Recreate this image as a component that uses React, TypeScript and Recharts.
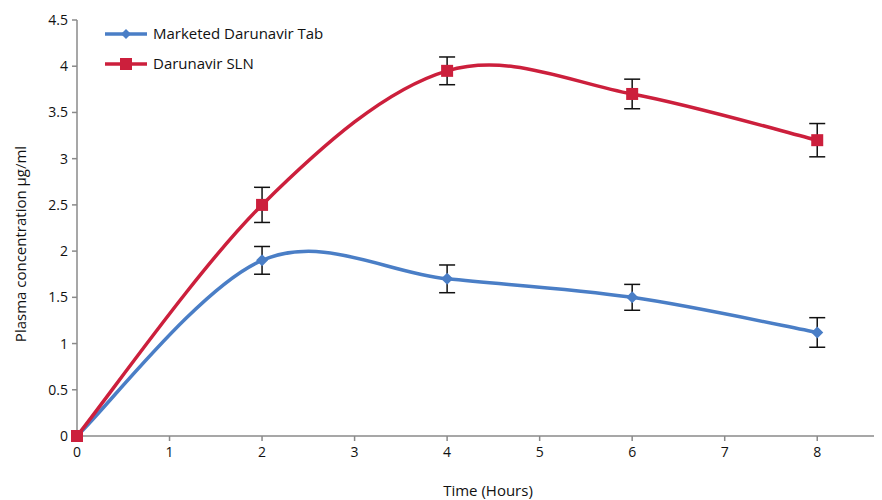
import React from "react";
import { LineChart, Line, XAxis, YAxis, ErrorBar } from "recharts";

const hours = [0, 2, 4, 6, 8];
const tabValues = [0, 1.9, 1.7, 1.5, 1.12];
const tabErrors = [0, 0.15, 0.15, 0.14, 0.16];
const slnValues = [0, 2.5, 3.95, 3.7, 3.2];
const slnErrors = [0, 0.19, 0.15, 0.16, 0.18];
const xTicks = [0, 1, 2, 3, 4, 5, 6, 7, 8];
const yTicks = [0, 0.5, 1, 1.5, 2, 2.5, 3, 3.5, 4, 4.5];

const BLUE = "#4a7ec6";
const RED = "#cc1f3c";
const AXIS = "#8a8a8a";
const FONT = "'Open Sans', sans-serif";

const data = hours.map((h, i) => ({
  time: h,
  tab: tabValues[i],
  tabErr: tabErrors[i],
  sln: slnValues[i],
  slnErr: slnErrors[i],
}));

// Excel-like smoothed line (Catmull-Rom as cubic bezier)
const K = 1 / 6;
function excelCurve(context: any) {
  let pts: number[][] = [];
  return {
    areaStart() {},
    areaEnd() {},
    lineStart() {
      pts = [];
    },
    lineEnd() {
      if (!pts.length) return;
      context.moveTo(pts[0][0], pts[0][1]);
      for (let i = 0; i < pts.length - 1; i++) {
        const p0 = pts[i - 1] || pts[i];
        const p1 = pts[i];
        const p2 = pts[i + 1];
        const p3 = pts[i + 2] || p2;
        context.bezierCurveTo(
          p1[0] + (p2[0] - p0[0]) * K,
          p1[1] + (p2[1] - p0[1]) * K,
          p2[0] - (p3[0] - p1[0]) * K,
          p2[1] - (p3[1] - p1[1]) * K,
          p2[0],
          p2[1]
        );
      }
    },
    point(x: number, y: number) {
      pts.push([+x, +y]);
    },
  };
}

const Diamond = (props: any) => {
  const { cx, cy } = props;
  if (cx == null || cy == null) return null;
  const r = 6;
  return <path d={`M${cx},${cy - r}L${cx + r},${cy}L${cx},${cy + r}L${cx - r},${cy}Z`} fill={BLUE} />;
};

const Square = (props: any) => {
  const { cx, cy } = props;
  if (cx == null || cy == null) return null;
  return <rect x={cx - 6} y={cy - 6} width={12} height={12} fill={RED} />;
};

const legendItems = [
  { label: "Marketed Darunavir Tab", color: BLUE, shape: "diamond" },
  { label: "Darunavir SLN", color: RED, shape: "square" },
];

const ChartLegend = () => (
  <svg width={260} height={60} style={{ position: "absolute", left: 97, top: 14 }}>
    {legendItems.map((it, i) => {
      const y = 12 + i * 30;
      return (
        <g key={it.label}>
          <line x1={0} x2={42} y1={y} y2={y} stroke={it.color} strokeWidth={3.5} />
          {it.shape === "diamond" ? (
            <path d={`M21,${y - 5}L26,${y}L21,${y + 5}L16,${y}Z`} fill={it.color} />
          ) : (
            <rect x={15} y={y - 6} width={12} height={12} fill={it.color} />
          )}
          <text x={48} y={y + 5} fontSize={15} fontFamily={FONT} fill="#111">
            {it.label}
          </text>
        </g>
      );
    })}
  </svg>
);

const YLabel = () => (
  <text
    x={12}
    y={236}
    transform="rotate(-90 12 236)"
    textAnchor="middle"
    dominantBaseline="central"
    fontSize={15}
    fontFamily={FONT}
    fill="#111"
  >
    Plasma concentration µg/ml
  </text>
);

const XLabel = () => (
  <text x={480} y={482} textAnchor="middle" dominantBaseline="central" fontSize={15} fontFamily={FONT} fill="#111">
    Time (Hours)
  </text>
);

export default function App() {
  return (
    <div style={{ position: "relative", width: 874, height: 492 }}>
      <LineChart
        width={874}
        height={492}
        data={data}
        margin={{ top: 12, right: 0, bottom: 34, left: 0 }}
        style={{ fontFamily: FONT }}
      >
        <XAxis
          dataKey="time"
          type="number"
          domain={[0, 8.7]}
          ticks={xTicks}
          stroke={AXIS}
          strokeWidth={1.5}
          tickSize={5}
          tick={{ fill: "#111", fontSize: 14 }}
          tickMargin={6}
          label={<XLabel />}
        />
        <YAxis
          type="number"
          domain={[0, 4.5]}
          ticks={yTicks}
          width={69}
          stroke={AXIS}
          strokeWidth={1.5}
          tickSize={5}
          tick={{ fill: "#111", fontSize: 14 }}
          tickMargin={4}
          label={<YLabel />}
        />
        <Line
          dataKey="tab"
          type={excelCurve as any}
          stroke={BLUE}
          strokeWidth={3.5}
          dot={<Diamond />}
          activeDot={false}
          isAnimationActive={false}
        >
          <ErrorBar dataKey="tabErr" width={8} stroke="#111" strokeWidth={1.5} direction="y" />
        </Line>
        <Line
          dataKey="sln"
          type={excelCurve as any}
          stroke={RED}
          strokeWidth={3.5}
          dot={<Square />}
          activeDot={false}
          isAnimationActive={false}
        >
          <ErrorBar dataKey="slnErr" width={8} stroke="#111" strokeWidth={1.5} direction="y" />
        </Line>
      </LineChart>
      <ChartLegend />
    </div>
  );
}
